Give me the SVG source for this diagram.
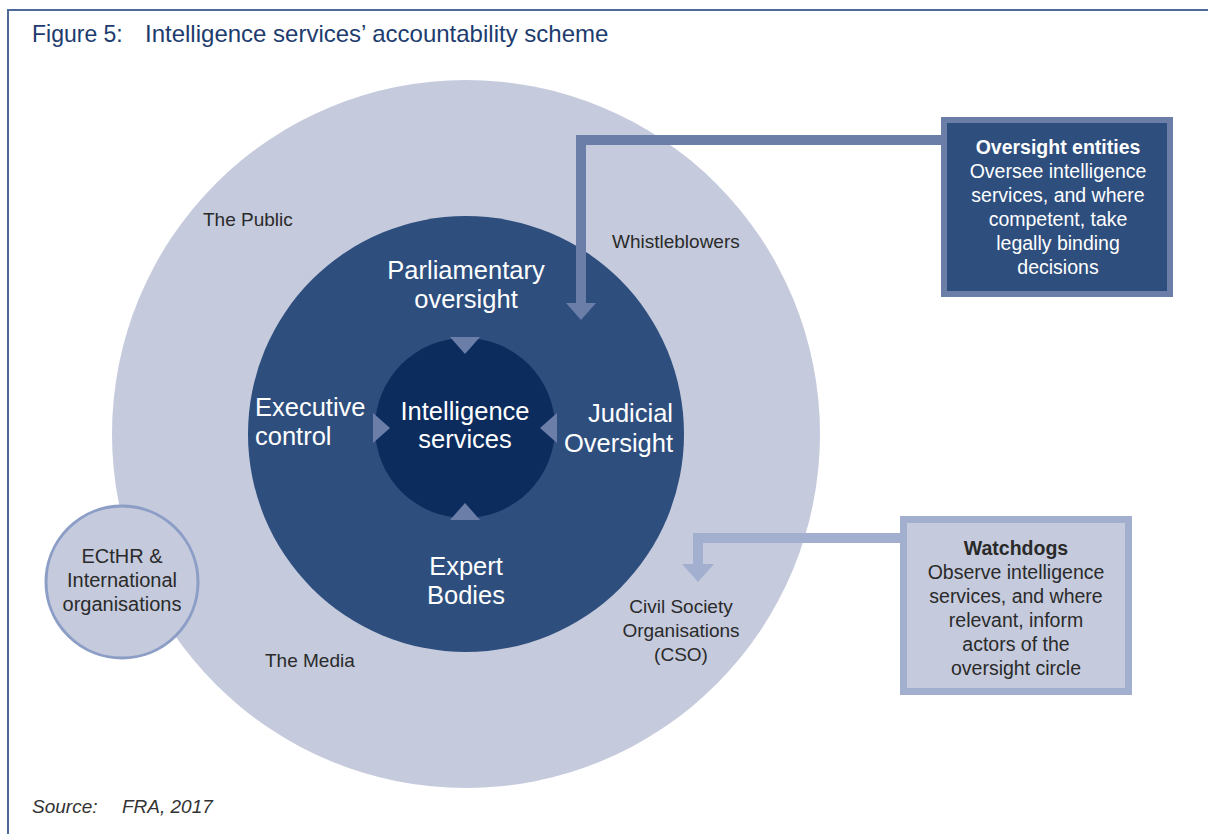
<svg xmlns="http://www.w3.org/2000/svg" width="1208" height="834" viewBox="0 0 1208 834">
<style>
  .t { font-family: "Liberation Sans", Arial, sans-serif; }
  .dark { fill: #2a2a2a; font-size: 19px; }
  .white { fill: #ffffff; font-size: 25.5px; }
  .box { font-size: 19.5px; }
  .tri { fill: #6a7ea8; }
</style>
<rect x="0" y="0" width="1208" height="834" fill="#ffffff"/>
<path d="M8 834 V10 H1208" fill="none" stroke="#4d6a9a" stroke-width="2"/>
<text class="t" x="32" y="42" font-size="23" fill="#1d3c6e">Figure 5:</text>
<text class="t" x="145" y="42" font-size="24" fill="#1d3c6e">Intelligence services’ accountability scheme</text>

<g id="the-public">
  <circle cx="466" cy="434" r="354" fill="#c5cadd"/>
  <text class="t dark" x="203" y="226">The Public</text>
  <text class="t dark" x="612" y="248">Whistleblowers</text>
  <text class="t dark" x="265" y="667">The Media</text>
</g>
<g id="cso">
  <text class="t dark" text-anchor="middle" x="681" y="613">Civil Society</text>
  <text class="t dark" text-anchor="middle" x="681" y="637">Organisations</text>
  <text class="t dark" text-anchor="middle" x="681" y="661">(CSO)</text>
</g>

<g id="oversight-circle">
  <circle cx="466" cy="434" r="218" fill="#2e4e7e"/>
  <text class="t white" text-anchor="middle" x="466" y="279">Parliamentary</text>
  <text class="t white" text-anchor="middle" x="466" y="308">oversight</text>
  <text class="t white" x="255" y="416">Executive</text>
  <text class="t white" x="255" y="445">control</text>
  <text class="t white" text-anchor="end" x="673" y="422">Judicial</text>
  <text class="t white" text-anchor="end" x="673" y="452">Oversight</text>
  <text class="t white" text-anchor="middle" x="466" y="575">Expert</text>
  <text class="t white" text-anchor="middle" x="466" y="604">Bodies</text>
</g>

<g id="intelligence-services">
  <circle cx="465" cy="428" r="90" fill="#0c2c5e"/>
  <text class="t white" text-anchor="middle" x="465" y="420">Intelligence</text>
  <text class="t white" text-anchor="middle" x="465" y="448">services</text>
  <polygon class="tri" points="450,337 480,337 465,354"/>
  <polygon class="tri" points="450,520 480,520 465,503"/>
  <polygon class="tri" points="373,413 373,443 390,428"/>
  <polygon class="tri" points="557,413 557,443 540,428"/>
</g>

<g id="connectors">
  <path d="M944 140 H581 V304" fill="none" stroke="#6a7ea8" stroke-width="10"/>
  <polygon points="566,303 596,303 581,320" fill="#6a7ea8"/>
  <path d="M903 538 H698 V565" fill="none" stroke="#a3afcf" stroke-width="10"/>
  <polygon points="682,564 714,564 698,582" fill="#a3afcf"/>
</g>

<g id="ecthr">
  <circle cx="122" cy="582" r="76" fill="#c5cadd" stroke="#8c9ec6" stroke-width="3"/>
  <text class="t dark" text-anchor="middle" x="122" y="563" style="font-size:20px">ECtHR &amp;</text>
  <text class="t dark" text-anchor="middle" x="122" y="587" style="font-size:20px">International</text>
  <text class="t dark" text-anchor="middle" x="122" y="611" style="font-size:20px">organisations</text>
</g>

<g id="oversight-entities">
  <rect x="944" y="120" width="226" height="174" fill="#2e4e7e" stroke="#6a7ea8" stroke-width="6"/>
  <text class="t box" fill="#ffffff" text-anchor="middle" x="1058" y="154" font-weight="bold">Oversight entities</text>
  <text class="t box" fill="#ffffff" text-anchor="middle" x="1058" y="178">Oversee intelligence</text>
  <text class="t box" fill="#ffffff" text-anchor="middle" x="1058" y="202">services, and where</text>
  <text class="t box" fill="#ffffff" text-anchor="middle" x="1058" y="226">competent, take</text>
  <text class="t box" fill="#ffffff" text-anchor="middle" x="1058" y="250">legally binding</text>
  <text class="t box" fill="#ffffff" text-anchor="middle" x="1058" y="274">decisions</text>
</g>

<g id="watchdogs">
  <rect x="903.5" y="519.5" width="225" height="172" fill="#c5cadd" stroke="#a3afcf" stroke-width="7"/>
  <text class="t box" fill="#2a2a2a" text-anchor="middle" x="1016" y="555" font-weight="bold">Watchdogs</text>
  <text class="t box" fill="#2a2a2a" text-anchor="middle" x="1016" y="579">Observe intelligence</text>
  <text class="t box" fill="#2a2a2a" text-anchor="middle" x="1016" y="603">services, and where</text>
  <text class="t box" fill="#2a2a2a" text-anchor="middle" x="1016" y="627">relevant, inform</text>
  <text class="t box" fill="#2a2a2a" text-anchor="middle" x="1016" y="651">actors of the</text>
  <text class="t box" fill="#2a2a2a" text-anchor="middle" x="1016" y="675">oversight circle</text>
</g>

<text class="t" x="32" y="813" font-size="19" font-style="italic" fill="#333333">Source:</text>
<text class="t" x="122" y="813" font-size="19" font-style="italic" fill="#333333">FRA, 2017</text>
</svg>
